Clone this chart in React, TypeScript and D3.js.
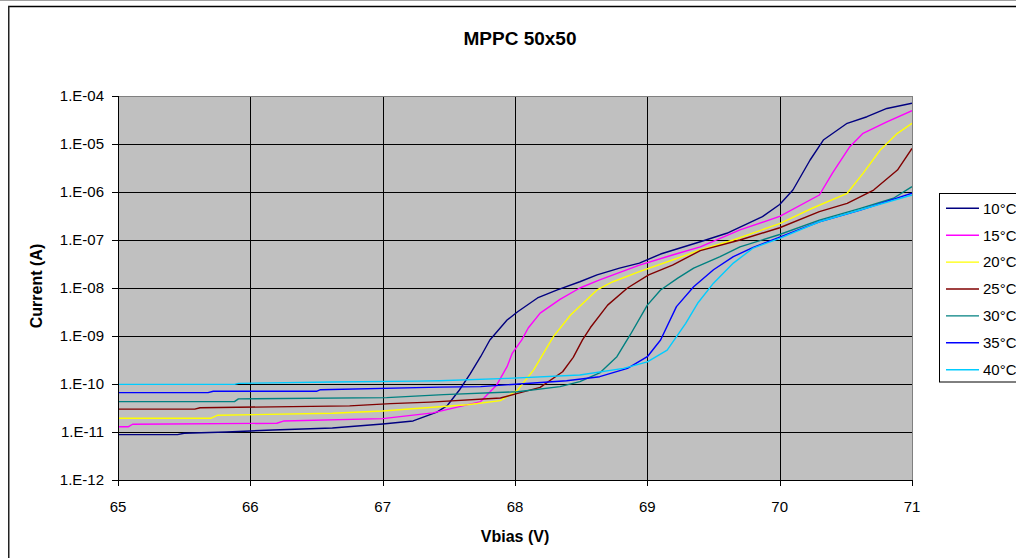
import React from "react";
import * as d3 from "d3";

// Chart text and axis ticks
const chartTitle = "MPPC 50x50";
const xTitle = "Vbias (V)";
const yTitle = "Current (A)";
const xTicks = [65, 66, 67, 68, 69, 70, 71];
const yTicks = [1e-12, 1e-11, 1e-10, 1e-9, 1e-8, 1e-7, 1e-6, 1e-5, 1e-4];

// Series names and line colours
const seriesNames = ["10°C", "15°C", "20°C", "25°C", "30°C", "35°C", "40°C"];
const seriesColors = ["#000080", "#FF00FF", "#FFFF00", "#800000", "#008080", "#0000FF", "#00CCFF"];

// Bias voltage (V) and dark current (A) for each temperature
const v10 = [65.0, 65.45, 65.5, 65.82, 66.17, 66.62, 67.0, 67.23, 67.41, 67.49, 67.58, 67.66, 67.74, 67.81, 67.94, 68.02, 68.17, 68.32, 68.49, 68.62, 68.79, 68.94, 69.1, 69.4, 69.6, 69.87, 70.0, 70.1, 70.23, 70.33, 70.51, 70.66, 70.81, 71.0];
const i10 = [8.8e-12, 8.8e-12, 9.4e-12, 1.0e-11, 1.1e-11, 1.21e-11, 1.47e-11, 1.7e-11, 2.6e-11, 3.6e-11, 7.5e-11, 1.6e-10, 3.7e-10, 8.25e-10, 2.15e-9, 3.2e-9, 6.2e-9, 9.1e-9, 1.35e-8, 1.87e-8, 2.6e-8, 3.3e-8, 5.1e-8, 9.2e-8, 1.38e-7, 3.06e-7, 5.5e-7, 1.1e-6, 4.64e-6, 1.21e-5, 2.7e-5, 3.7e-5, 5.5e-5, 7.05e-5];

const v15 = [65.0, 65.08, 65.11, 66.2, 66.25, 67.0, 67.38, 67.74, 67.86, 67.94, 67.98, 68.05, 68.1, 68.19, 68.34, 68.49, 68.64, 68.94, 69.19, 69.4, 69.7, 70.0, 70.3, 70.4, 70.53, 70.63, 70.81, 71.0];
const i15 = [1.29e-11, 1.29e-11, 1.45e-11, 1.52e-11, 1.69e-11, 1.9e-11, 2.5e-11, 4.3e-11, 9.4e-11, 2.3e-10, 4.4e-10, 8.2e-10, 1.47e-9, 3.0e-9, 5.8e-9, 1.0e-8, 1.47e-8, 3.0e-8, 4.87e-8, 7.2e-8, 1.62e-7, 3.1e-7, 8.66e-7, 2.49e-6, 8.8e-6, 1.67e-5, 2.9e-5, 4.94e-5];

const v20 = [65.0, 65.7, 65.75, 66.62, 67.0, 67.3, 67.64, 67.89, 68.02, 68.14, 68.29, 68.42, 68.62, 68.74, 68.94, 69.19, 69.4, 69.65, 70.0, 70.25, 70.51, 70.63, 70.76, 70.89, 71.0];
const i20 = [1.93e-11, 1.93e-11, 2.23e-11, 2.45e-11, 2.74e-11, 3.16e-11, 3.7e-11, 4.5e-11, 7.5e-11, 1.94e-10, 9.7e-10, 2.74e-9, 9.1e-9, 1.35e-8, 2.19e-8, 3.83e-8, 6.2e-8, 1.0e-7, 2.2e-7, 4.64e-7, 9.4e-7, 2.45e-6, 7.5e-6, 1.67e-5, 2.7e-5];

const v25 = [65.0, 65.58, 65.62, 66.75, 67.06, 67.36, 67.89, 68.02, 68.19, 68.36, 68.44, 68.51, 68.57, 68.7, 68.85, 69.01, 69.19, 69.4, 69.7, 70.0, 70.3, 70.51, 70.71, 70.89, 71.0];
const i25 = [3.0e-11, 3.0e-11, 3.2e-11, 3.5e-11, 3.9e-11, 4.2e-11, 5.1e-11, 6.4e-11, 8.5e-11, 1.8e-10, 3.6e-10, 8.3e-10, 1.5e-9, 4.4e-9, 1.0e-8, 1.87e-8, 3.0e-8, 6.0e-8, 1.0e-7, 1.8e-7, 3.9e-7, 5.8e-7, 1.1e-6, 2.87e-6, 8.1e-6];

const v30 = [65.0, 65.88, 65.91, 67.03, 67.46, 68.02, 68.34, 68.49, 68.64, 68.77, 68.87, 69.0, 69.1, 69.23, 69.35, 69.55, 69.7, 70.0, 70.3, 70.61, 70.86, 71.0];
const i30 = [4.3e-11, 4.3e-11, 4.9e-11, 5.2e-11, 6.0e-11, 6.9e-11, 8.8e-11, 1.12e-10, 1.7e-10, 3.7e-10, 1.05e-9, 4.4e-9, 9.1e-9, 1.6e-8, 2.6e-8, 4.5e-8, 7.2e-8, 1.3e-7, 2.6e-7, 4.57e-7, 7.4e-7, 1.29e-6];

const v35 = [65.0, 65.68, 65.72, 66.5, 66.53, 67.43, 67.74, 68.39, 68.64, 68.85, 69.0, 69.1, 69.22, 69.35, 69.5, 69.65, 69.8, 70.0, 70.3, 70.61, 71.0];
const i35 = [6.6e-11, 6.6e-11, 7.05e-11, 7.05e-11, 7.6e-11, 8.6e-11, 8.8e-11, 1.17e-10, 1.42e-10, 2.12e-10, 3.7e-10, 8.25e-10, 4.1e-9, 1.06e-8, 2.4e-8, 4.5e-8, 7.0e-8, 1.15e-7, 2.4e-7, 4.2e-7, 9.4e-7];

const v40 = [65.0, 65.88, 65.91, 66.62, 67.26, 67.43, 67.94, 68.49, 68.82, 69.0, 69.15, 69.29, 69.38, 69.5, 69.65, 69.8, 70.0, 70.3, 71.0];
const i40 = [0.98e-10, 0.98e-10, 1.03e-10, 1.1e-10, 1.15e-10, 1.17e-10, 1.31e-10, 1.54e-10, 2.12e-10, 2.9e-10, 5.1e-10, 1.84e-9, 4.8e-9, 1.26e-8, 3.3e-8, 6.8e-8, 1.08e-7, 2.4e-7, 8.66e-7];

const voltages = [v10, v15, v20, v25, v30, v35, v40];
const currents = [i10, i15, i20, i25, i30, i35, i40];

const FONT = "'Liberation Sans', Arial, sans-serif";

function expLabel(t: number): string {
  const e = Math.round(Math.log10(t));
  return `1.E${e < 0 ? "-" : "+"}${String(Math.abs(e)).padStart(2, "0")}`;
}

export default function App() {
  const W = 1016;
  const H = 558;
  const left = 118, right = 912, top = 96, bottom = 480;

  const x = d3.scaleLinear().domain([65, 71]).range([left, right]);
  const y = d3.scaleLog().domain([1e-12, 1e-4]).range([bottom, top]);

  const line = d3
    .line<[number, number]>()
    .x((d) => x(d[0]))
    .y((d) => y(d[1]));

  const legendX = 939.5;
  const legendY = 193.5;
  const legendRowH = 26.9;

  return (
    <div style={{ position: "absolute", left: 0, top: 0 }}>
      <svg width={W} height={H} style={{ display: "block", background: "#fff" }} fontFamily={FONT}>
        <defs>
          <clipPath id="plotClip">
            <rect x={left} y={top - 1} width={right - left} height={bottom - top + 2} />
          </clipPath>
        </defs>

        {/* frame */}
        <line x1={0} x2={W} y1={0.5} y2={0.5} stroke="#a0a0a0" strokeWidth={1} />
        <line x1={8} x2={W} y1={6.5} y2={6.5} stroke="#000" strokeWidth={1.5} />
        <line x1={8.75} x2={8.75} y1={6} y2={H} stroke="#222" strokeWidth={1.5} />

        {/* title */}
        <text x={520} y={45} textAnchor="middle" fontSize={19} fontWeight="bold">
          {chartTitle}
        </text>

        {/* plot background */}
        <rect x={left} y={top} width={right - left} height={bottom - top} fill="#C0C0C0" />

        {/* gridlines */}
        {yTicks.slice(1, -1).map((t) => (
          <line key={"gy" + t} x1={left} x2={right} y1={Math.round(y(t)) + 0.5} y2={Math.round(y(t)) + 0.5} stroke="#000" strokeWidth={1} />
        ))}
        {xTicks.slice(1, -1).map((t) => (
          <line key={"gx" + t} x1={Math.round(x(t)) + 0.5} x2={Math.round(x(t)) + 0.5} y1={top} y2={bottom} stroke="#000" strokeWidth={1} />
        ))}

        {/* plot border */}
        <line x1={left} x2={right + 0.5} y1={top + 0.5} y2={top + 0.5} stroke="#808080" strokeWidth={1} />
        <line x1={right + 0.5} x2={right + 0.5} y1={top} y2={bottom} stroke="#808080" strokeWidth={1} />

        {/* series */}
        <g clipPath="url(#plotClip)">
          {voltages.map((vs, si) => {
            const pts: [number, number][] = vs.map((v, k) => [v, currents[si][k]]);
            return (
              <path key={seriesNames[si]} d={line(pts) || ""} fill="none" stroke={seriesColors[si]} strokeWidth={1.4} strokeLinejoin="round" />
            );
          })}
        </g>

        {/* axes */}
        <line x1={left + 0.5} x2={left + 0.5} y1={top} y2={bottom} stroke="#000" strokeWidth={1} />
        <line x1={left} x2={right + 1} y1={bottom + 0.5} y2={bottom + 0.5} stroke="#000" strokeWidth={1} />
        {yTicks.map((t) => (
          <g key={"ty" + t}>
            <line x1={left - 6} x2={left} y1={Math.round(y(t)) + 0.5} y2={Math.round(y(t)) + 0.5} stroke="#000" strokeWidth={1} />
            <text x={104} y={y(t) + 5.3} textAnchor="end" fontSize={15}>
              {expLabel(t)}
            </text>
          </g>
        ))}
        {xTicks.map((t) => (
          <g key={"tx" + t}>
            <line x1={Math.round(x(t)) + 0.5} x2={Math.round(x(t)) + 0.5} y1={bottom} y2={bottom + 6} stroke="#000" strokeWidth={1} />
            <text x={x(t)} y={511.5} textAnchor="middle" fontSize={15}>
              {t}
            </text>
          </g>
        ))}

        {/* axis titles */}
        <text x={515} y={541.5} textAnchor="middle" fontSize={16} fontWeight="bold">
          {xTitle}
        </text>
        <text transform={`translate(42,286) rotate(-90)`} textAnchor="middle" fontSize={16} fontWeight="bold">
          {yTitle}
        </text>

        {/* legend */}
        <rect x={legendX} y={legendY} width={W} height={188.5} fill="#fff" stroke="#000" strokeWidth={1} />
        {seriesNames.map((name, si) => {
          const cy = 208.3 + si * legendRowH;
          return (
            <g key={"lg" + name}>
              <line x1={946} x2={979} y1={cy} y2={cy} stroke={seriesColors[si]} strokeWidth={1.4} />
              <text x={983} y={cy + 5.3} fontSize={15}>
                {name}
              </text>
            </g>
          );
        })}
      </svg>
    </div>
  );
}
